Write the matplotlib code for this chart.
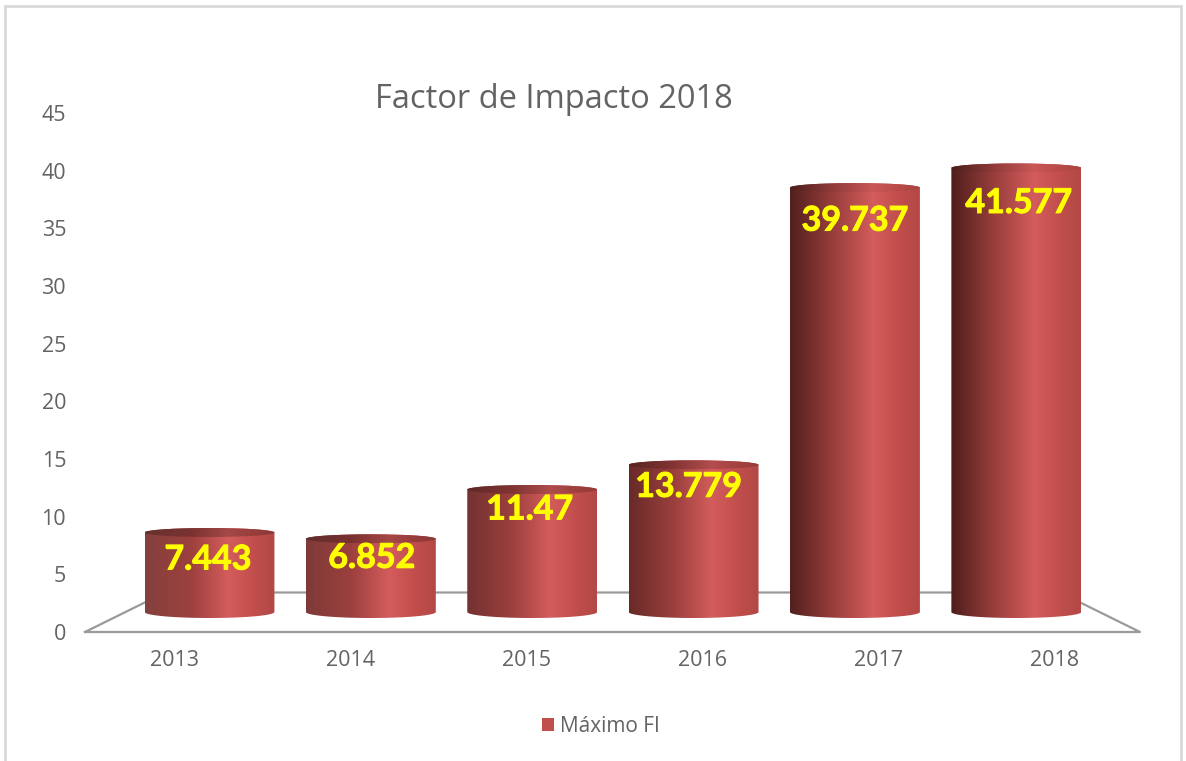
import numpy as np
import matplotlib
matplotlib.use("Agg")
import matplotlib.pyplot as plt
import matplotlib.patheffects as pe
from matplotlib.colors import LinearSegmentedColormap
from matplotlib.patches import Ellipse, PathPatch, Rectangle
from matplotlib.path import Path
from matplotlib.lines import Line2D

years = ["2013", "2014", "2015", "2016", "2017", "2018"]
maximo_fi = [7.443, 6.852, 11.47, 13.779, 39.737, 41.577]
label_texts = ["7.443", "6.852", "11.47", "13.779", "39.737", "41.577"]
y_ticks = [0, 5, 10, 15, 20, 25, 30, 35, 40, 45]

# style / layout
label_offsets_px = [(-1.5, -27), (1, -19), (-2.5, -20), (-5, -22), (0, -33), (2.5, -35)]
left_colors = ["#84403d", "#7e3a38", "#723230", "#682a28", "#52201e", "#4e1e1c"]
cap_dark = [0.78, 0.78, 0.82, 0.84, 0.95, 0.95]
W, H = 1186, 761
TEXT = "#636363"
LINE = "#9a9a9a"
SCALE = 10.68   # px per unit on the cylinder plane


def fx(px):
    return px / W


def fy(py):
    return 1 - py / H


fig = plt.figure(figsize=(W / 100, H / 100), dpi=100, facecolor="white")
fig.patches.append(Rectangle((fx(5), fy(775)), fx(1176), fy(6) - fy(775),
                             transform=fig.transFigure, fill=False,
                             edgecolor="#d9d9d9", linewidth=2))

# front plane: value axis and category axis
ax = fig.add_axes([fx(87), fy(632), fx(1055), fy(113) - fy(632)])
ax.set_xlim(-0.5, 5.5)
ax.set_ylim(0, 45)
ax.set_xticks(range(len(years)), years)
ax.set_yticks(y_ticks)
ax.tick_params(axis="both", length=0, labelcolor=TEXT, labelsize=15.5)
ax.tick_params(axis="y", pad=15)
ax.tick_params(axis="x", pad=13)
for lab in ax.get_xticklabels() + ax.get_yticklabels():
    lab.set_fontfamily("Open Sans")
for s in ax.spines.values():
    s.set_visible(False)
ax.patch.set_visible(False)

# floor outline
floor_x = [fx(85), fx(1140), fx(1060), fx(165), fx(85)]
floor_y = [fy(632), fy(632), fy(592.5), fy(592.5), fy(632)]
fig.add_artist(Line2D(floor_x, floor_y, transform=fig.transFigure,
                      color=LINE, linewidth=1.6, zorder=0.5))

# cylinders
top_px, bot_px = 150, 632
base_px = 612
cx = fig.add_axes([fx(128.8), fy(bot_px), fx(968.2), fy(top_px) - fy(bot_px)], zorder=3)
cx.set_xlim(-0.5, 5.5)
cx.set_ylim((base_px - bot_px) / SCALE, (base_px - top_px) / SCALE)
cx.axis("off")

bars = cx.bar(range(len(years)), maximo_fi, width=0.805, color="#c0504d",
              label="Máximo FI", zorder=1)

bot_half = 6 / SCALE
top_half = 4.5 / SCALE
t = np.linspace(0, np.pi, 60)
for i, rect in enumerate(bars):
    x0, w, h = rect.get_x(), rect.get_width(), rect.get_height()
    rect.set_visible(False)
    xc = x0 + w / 2
    cmap = LinearSegmentedColormap.from_list(
        f"cyl{i}",
        [(0, left_colors[i]), (0.35, "#9c403e"), (0.64, "#d45c5c"),
         (0.85, "#c04e4b"), (1, "#b34846")])
    grad = np.linspace(0, 1, 256).reshape(1, -1)
    # body
    xs = np.concatenate([xc - w / 2 * np.cos(t), xc + w / 2 * np.cos(t)])
    ys = np.concatenate([-bot_half * np.sin(t), h + top_half * np.sin(t)])
    body = PathPatch(Path(np.column_stack([xs, ys])), transform=cx.transData,
                     facecolor="none", edgecolor="none")
    cx.add_patch(body)
    im = cx.imshow(grad, cmap=cmap, extent=(x0, x0 + w, -bot_half, h + top_half),
                   aspect="auto", zorder=2, origin="lower")
    im.set_clip_path(body)
    # top cap
    rgba = cmap(grad)
    rgba[..., :3] *= cap_dark[i]
    cap = Ellipse((xc, h), w, 2 * top_half, transform=cx.transData,
                  facecolor="none", edgecolor="none")
    cx.add_patch(cap)
    im2 = cx.imshow(rgba, extent=(x0, x0 + w, h - top_half, h + top_half),
                    aspect="auto", zorder=3, origin="lower")
    im2.set_clip_path(cap)
    dx, dy = label_offsets_px[i]
    cx.annotate(label_texts[i], (xc, h), xytext=(dx * 0.72, dy * 0.72),
                textcoords="offset points", ha="center", va="center",
                color="#ffff00", fontsize=24.5, fontweight="bold",
                fontfamily="Lato", zorder=5,
                path_effects=[pe.withStroke(linewidth=0.7, foreground="#ffff00")])

cx.set_xlim(-0.5, 5.5)
cx.set_ylim((base_px - bot_px) / SCALE, (base_px - top_px) / SCALE)

fig.text(fx(554), fy(99), "Factor de Impacto 2018", ha="center", va="center",
         fontsize=23.5, color=TEXT, fontfamily="Open Sans")

handle = Rectangle((0, 0), 1, 1, facecolor="#c0504d", edgecolor="none")
fig.legend([handle], ["Máximo FI"], loc="center",
           bbox_to_anchor=(fx(601), fy(726)), frameon=False, handlelength=0.6,
           handleheight=0.6, handletextpad=0.3, labelcolor=TEXT,
           prop={"family": "Open Sans", "size": 15})

fig.savefig("out.png", dpi=100)
